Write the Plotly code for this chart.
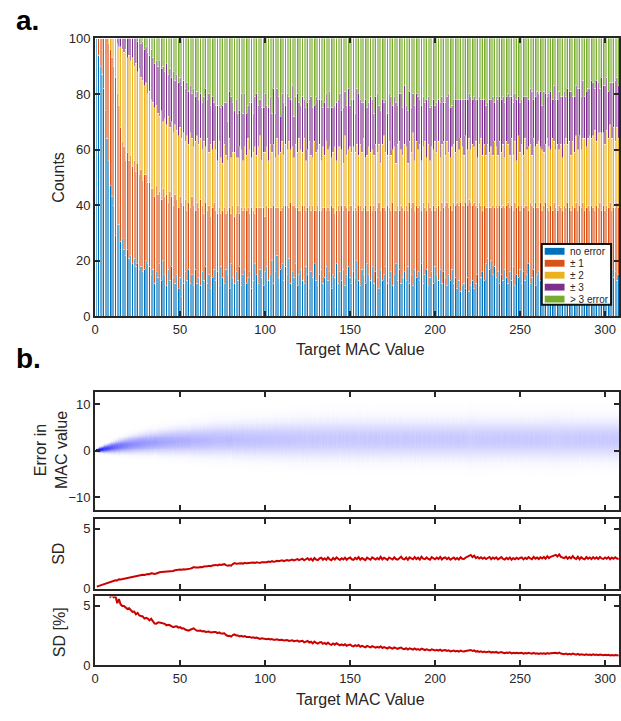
import numpy as np
import plotly.graph_objects as go

W, H = 621, 721
def px(x): return x / W
def py(y): return 1 - y / H

FONT = "Liberation Sans, Arial, Helvetica, sans-serif"
INK = "#262626"

# ---------------- panel a data (counts out of 100 trials per target) ----------------
no_error = [100, 94, 90, 87, 82, 74, 64, 56, 47, 43,
            40, 29, 33, 33, 27, 28, 24, 22, 24, 21,
            22, 19, 21, 18, 19, 17, 18, 16, 17, 20,
            19, 18, 15, 17, 12, 16, 14, 19, 13, 20,
            15, 11, 17, 13, 18, 14, 12, 15, 10, 14,
            7, 12, 16, 13, 17, 12, 15, 11, 17, 12,
            14, 11, 16, 13, 18, 12, 15, 10, 14, 17,
            13, 16, 11, 18, 14, 12, 17, 15, 10, 19,
            14, 12, 16, 13, 18, 11, 15, 17, 12, 14,
            16, 10, 13, 19, 15, 12, 17, 14, 11, 16,
            18, 13, 15, 20, 12, 16, 22, 14, 17, 19,
            13, 18, 15, 21, 12, 16, 14, 19, 11, 15,
            17, 13, 12, 18, 15, 10, 16, 14, 19, 13,
            11, 15, 17, 12, 14, 18, 13, 16, 10, 15,
            14, 19, 12, 16, 13, 17, 11, 15, 18, 14,
            12, 16, 14, 20, 13, 11, 17, 15, 12, 19,
            15, 13, 18, 12, 16, 14, 10, 17, 13, 15,
            18, 12, 14, 16, 11, 15, 19, 13, 17, 12,
            14, 16, 13, 18, 12, 15, 11, 17, 14, 16,
            13, 19, 12, 15, 17, 11, 14, 16, 12, 18,
            15, 13, 17, 12, 16, 14, 11, 15, 13, 17,
            12, 14, 10, 13, 9, 11, 12, 10, 14, 9,
            11, 13, 10, 12, 15, 11, 14, 16, 13, 19,
            21, 17, 20, 15, 18, 14, 16, 12, 15, 13,
            17, 14, 12, 16, 13, 18, 11, 15, 14, 17,
            12, 16, 13, 15, 19, 12, 14, 17, 11, 15,
            16, 13, 18, 14, 12, 15, 17, 13, 16, 11,
            14, 17, 12, 15, 18, 13, 16, 12, 14, 19,
            13, 15, 11, 17, 14, 16, 12, 18, 15, 13,
            16, 12, 14, 17, 13, 15, 11, 16, 14, 18,
            13, 15, 12, 17, 14, 16, 13, 15]

err_pm1 = [0, 6, 10, 13, 18, 26, 36, 42, 49, 50,
           50, 57, 47, 43, 41, 35, 37, 34, 35, 35,
           36, 35, 35, 34, 36, 34, 35, 33, 34, 31,
           29, 30, 31, 29, 31, 31, 30, 26, 29, 26,
           28, 33, 24, 32, 25, 26, 32, 27, 29, 29,
           34, 28, 26, 25, 24, 27, 28, 29, 21, 29,
           25, 31, 24, 24, 23, 26, 25, 26, 25, 24,
           25, 21, 28, 19, 24, 27, 20, 23, 29, 18,
           26, 24, 21, 27, 19, 28, 23, 22, 26, 25,
           21, 29, 25, 18, 24, 27, 22, 25, 28, 20,
           22, 26, 24, 19, 28, 23, 17, 25, 21, 20,
           27, 22, 25, 18, 29, 24, 26, 20, 28, 23,
           21, 27, 28, 20, 24, 30, 22, 26, 19, 25,
           29, 23, 21, 27, 25, 20, 26, 22, 30, 24,
           23, 19, 28, 22, 27, 21, 29, 24, 20, 26,
           28, 22, 25, 18, 27, 29, 21, 24, 28, 19,
           23, 27, 20, 28, 22, 25, 31, 21, 26, 24,
           20, 28, 25, 22, 30, 23, 19, 27, 21, 28,
           25, 22, 27, 20, 29, 24, 30, 21, 26, 23,
           27, 19, 29, 24, 21, 30, 25, 22, 28, 20,
           24, 27, 21, 29, 23, 26, 30, 24, 27, 21,
           29, 26, 31, 27, 32, 29, 28, 31, 26, 33,
           30, 27, 31, 28, 24, 30, 26, 22, 27, 20,
           18, 22, 19, 25, 21, 26, 23, 28, 24, 27,
           22, 26, 29, 23, 27, 20, 30, 24, 26, 21,
           28, 23, 27, 25, 19, 29, 26, 22, 30, 24,
           23, 28, 20, 26, 29, 24, 21, 27, 22, 30,
           25, 21, 28, 24, 20, 27, 23, 29, 25, 19,
           27, 24, 30, 21, 26, 23, 29, 20, 24, 27,
           22, 28, 25, 21, 27, 24, 30, 22, 26, 20,
           27, 24, 29, 21, 25, 23, 28, 24]

err_pm2 = [0, 0, 0, 0, 0, 0, 0, 2, 4, 7,
           10, 14, 18, 21, 29, 33, 34, 40, 34, 38,
           34, 39, 34, 39, 33, 38, 33, 36, 32, 33,
           32, 33, 32, 31, 32, 29, 29, 27, 32, 24,
           28, 25, 31, 23, 27, 26, 25, 25, 26, 25,
           23, 26, 21, 27, 21, 27, 21, 21, 25, 24,
           23, 22, 20, 26, 20, 26, 19, 26, 21, 22,
           22, 19, 24, 20, 17, 23, 21, 18, 25, 20,
           19, 23, 20, 17, 24, 21, 18, 22, 20, 25,
           23, 18, 21, 24, 19, 22, 26, 17, 20, 23,
           21, 17, 23, 20, 22, 18, 25, 19, 21, 24,
           18, 22, 20, 24, 19, 21, 17, 23, 20, 26,
           22, 19, 24, 18, 21, 23, 20, 17, 25, 21,
           20, 24, 18, 22, 19, 25, 21, 23, 17, 20,
           24, 18, 21, 23, 20, 17, 25, 19, 22, 21,
           19, 23, 20, 24, 18, 22, 21, 25, 17, 20,
           23, 19, 22, 18, 24, 20, 21, 17, 23, 26,
           21, 18, 24, 20, 19, 23, 17, 22, 25, 20,
           19, 24, 21, 17, 22, 20, 25, 18, 23, 21,
           22, 18, 20, 24, 19, 21, 17, 23, 20, 25,
           20, 23, 19, 21, 24, 18, 22, 20, 17, 23,
           21, 19, 22, 20, 23, 21, 18, 24, 20, 22,
           19, 22, 20, 23, 18, 21, 24, 20, 22, 19,
           23, 20, 22, 18, 24, 21, 19, 23, 20, 22,
           18, 23, 21, 19, 24, 20, 22, 17, 25, 21,
           22, 19, 24, 20, 23, 21, 18, 25, 20, 23,
           24, 20, 22, 19, 21, 25, 23, 20, 26, 22,
           21, 24, 20, 23, 19, 22, 25, 21, 24, 20,
           23, 20, 24, 22, 25, 21, 23, 26, 22, 24,
           27, 24, 26, 29, 23, 27, 25, 28, 26, 24,
           27, 25, 28, 26, 29, 24, 27, 25]

err_pm3 = [0, 0, 0, 0, 0, 0, 0, 0, 0, 0,
           0, 0, 2, 3, 3, 4, 5, 4, 7, 6,
           8, 7, 10, 9, 11, 11, 12, 14, 13, 13,
           15, 13, 18, 16, 16, 16, 17, 20, 15, 20,
           17, 22, 15, 21, 16, 22, 16, 20, 19, 18,
           19, 19, 19, 19, 19, 17, 16, 21, 16, 16,
           16, 16, 17, 16, 21, 14, 21, 14, 19, 14,
           16, 20, 13, 18, 21, 15, 19, 14, 17, 22,
           18, 15, 21, 16, 13, 20, 17, 19, 15, 12,
           17, 20, 14, 18, 22, 15, 13, 19, 16, 21,
           15, 19, 17, 14, 20, 16, 18, 21, 13, 17,
           19, 14, 20, 16, 18, 22, 15, 17, 21, 13,
           16, 20, 14, 19, 17, 15, 21, 18, 13, 20,
           18, 16, 22, 14, 19, 17, 15, 20, 18, 16,
           15, 21, 17, 19, 14, 20, 16, 18, 22, 15,
           19, 17, 14, 20, 22, 16, 18, 13, 21, 17,
           16, 20, 18, 15, 17, 21, 14, 19, 16, 12,
           19, 15, 17, 21, 16, 18, 22, 14, 17, 20,
           17, 21, 15, 19, 18, 16, 14, 20, 17, 19,
           16, 20, 18, 14, 21, 17, 19, 15, 18, 13,
           18, 15, 20, 17, 14, 19, 16, 21, 18, 15,
           16, 19, 15, 18, 14, 17, 20, 13, 18, 16,
           19, 16, 18, 15, 21, 17, 14, 20, 16, 18,
           15, 19, 17, 21, 14, 18, 20, 16, 19, 17,
           20, 16, 18, 21, 15, 19, 17, 22, 14, 18,
           16, 21, 15, 19, 17, 20, 23, 14, 18, 19,
           17, 20, 16, 22, 18, 15, 19, 21, 14, 20,
           18, 16, 21, 17, 22, 19, 15, 20, 18, 23,
           16, 20, 18, 22, 17, 19, 21, 15, 20, 18,
           17, 21, 19, 15, 22, 18, 16, 20, 17, 21,
           19, 17, 15, 20, 16, 22, 18, 19]

n = min(len(no_error), len(err_pm1), len(err_pm2), len(err_pm3))
target = list(range(1, n + 1))
# remaining trials of the 100 per target fall in the "> 3 error" class
err_gt3 = [100 - (a + b + c + d) for a, b, c, d in zip(no_error, err_pm1, err_pm2, err_pm3)]

categories = ["no error", "\u00b1 1", "\u00b1 2", "\u00b1 3", "> 3 error"]
colors = ["#0072BD", "#D95319", "#EDB120", "#7E2F8E", "#77AC30"]
series = [no_error, err_pm1, err_pm2, err_pm3, err_gt3]

# ---------------- panel b data ----------------
mean_error = [0.05, 0.12, 0.18, 0.25, 0.31, 0.38, 0.44, 0.52, 0.58, 0.66,
              0.71, 0.79, 0.84, 0.90, 0.97, 1.02, 1.08, 1.12, 1.18, 1.21,
              1.27, 1.30, 1.36, 1.38, 1.45, 1.47, 1.52, 1.55, 1.58, 1.63,
              1.61, 1.68, 1.72, 1.70, 1.77, 1.80, 1.76, 1.84, 1.88, 1.85,
              1.91, 1.87, 1.95, 1.93, 1.98, 2.02, 1.96, 2.04, 2.01, 2.07,
              2.03, 2.10, 2.06, 2.12, 2.08, 2.15, 2.11, 2.17, 2.09, 2.19,
              2.14, 2.21, 2.16, 2.23, 2.18, 2.25, 2.20, 2.27, 2.22, 2.29,
              2.31, 2.24, 2.35, 2.28, 2.33, 2.26, 2.38, 2.30, 2.27, 2.36,
              2.29, 2.41, 2.33, 2.25, 2.37, 2.32, 2.44, 2.28, 2.35, 2.39,
              2.30, 2.42, 2.36, 2.27, 2.45, 2.34, 2.40, 2.31, 2.47, 2.38,
              2.33, 2.44, 2.39, 2.29, 2.46, 2.37, 2.42, 2.35, 2.50, 2.31,
              2.43, 2.38, 2.47, 2.34, 2.41, 2.49, 2.36, 2.44, 2.39, 2.52,
              2.40, 2.33, 2.46, 2.42, 2.37, 2.51, 2.44, 2.38, 2.48, 2.35,
              2.45, 2.41, 2.53, 2.39, 2.47, 2.36, 2.50, 2.43, 2.40, 2.49,
              2.37, 2.46, 2.42, 2.52, 2.38, 2.45, 2.41, 2.48, 2.36, 2.44,
              2.50, 2.39, 2.47, 2.43, 2.35, 2.49, 2.42, 2.38, 2.46, 2.41,
              2.37, 2.48, 2.44, 2.40, 2.51, 2.36, 2.45, 2.42, 2.39, 2.47,
              2.43, 2.38, 2.49, 2.35, 2.46, 2.41, 2.44, 2.37, 2.50, 2.40,
              2.36, 2.45, 2.39, 2.47, 2.42, 2.34, 2.48, 2.40, 2.44, 2.38,
              2.46, 2.35, 2.43, 2.39, 2.49, 2.37, 2.42, 2.45, 2.33, 2.41,
              2.38, 2.44, 2.36, 2.47, 2.40, 2.34, 2.43, 2.39, 2.46, 2.35,
              2.42, 2.37, 2.45, 2.33, 2.41, 2.38, 2.46, 2.36, 2.43, 2.39,
              2.34, 2.44, 2.38, 2.41, 2.35, 2.47, 2.37, 2.42, 2.33, 2.40,
              2.38, 2.45, 2.36, 2.43, 2.39, 2.34, 2.46, 2.37, 2.41, 2.35,
              2.44, 2.38, 2.33, 2.42, 2.36, 2.45, 2.39, 2.34, 2.43, 2.37,
              2.40, 2.35, 2.46, 2.38, 2.42, 2.33, 2.41, 2.36, 2.44, 2.39,
              2.34, 2.43, 2.37, 2.40, 2.45, 2.36, 2.41, 2.38, 2.33, 2.42,
              2.39, 2.35, 2.44, 2.37, 2.41, 2.34, 2.46, 2.38, 2.36, 2.43,
              2.40, 2.33, 2.42, 2.37, 2.45, 2.39, 2.35, 2.41, 2.38, 2.44,
              2.36, 2.42, 2.39, 2.34, 2.43, 2.37, 2.40, 2.35, 2.41, 2.38,
              2.44, 2.36, 2.39, 2.42, 2.35, 2.40, 2.37, 2.41]

sd_error = [0.17, 0.22, 0.28, 0.30, 0.36, 0.41, 0.43, 0.50, 0.52, 0.59,
            0.63, 0.70, 0.68, 0.78, 0.77, 0.80, 0.85, 0.88, 0.90, 0.96,
            0.97, 0.99, 1.04, 1.03, 1.10, 1.09, 1.12, 1.15, 1.14, 1.20,
            1.22, 1.21, 1.29, 1.27, 1.23, 1.26, 1.33, 1.37, 1.39, 1.40,
            1.43, 1.41, 1.46, 1.48, 1.49, 1.47, 1.53, 1.57, 1.55, 1.60,
            1.58, 1.62, 1.59, 1.61, 1.60, 1.67, 1.72, 1.80, 1.76, 1.74,
            1.77, 1.81, 1.79, 1.84, 1.82, 1.86, 1.90, 1.87, 1.93, 1.96,
            1.98, 1.94, 2.01, 1.97, 2.00, 2.04, 1.96, 1.92, 1.95, 1.92,
            2.05, 2.13, 2.08, 2.10, 2.06, 2.12, 2.09, 2.15, 2.11, 2.13,
            2.16, 2.12, 2.18, 2.15, 2.20, 2.17, 2.14, 2.21, 2.19, 2.23,
            2.20, 2.26, 2.22, 2.29, 2.24, 2.27, 2.33, 2.28, 2.31, 2.36,
            2.30, 2.34, 2.39, 2.33, 2.37, 2.43, 2.36, 2.40, 2.46, 2.38,
            2.44, 2.50, 2.36, 2.47, 2.54, 2.40, 2.50, 2.34, 2.55, 2.43,
            2.38, 2.52, 2.58, 2.41, 2.53, 2.40, 2.60, 2.44, 2.37, 2.56,
            2.43, 2.61, 2.46, 2.39, 2.54, 2.44, 2.58, 2.41, 2.53, 2.60,
            2.45, 2.40, 2.57, 2.46, 2.63, 2.42, 2.55, 2.44, 2.38, 2.59,
            2.47, 2.41, 2.61, 2.48, 2.43, 2.56, 2.45, 2.65, 2.44, 2.58,
            2.46, 2.40, 2.60, 2.49, 2.43, 2.62, 2.47, 2.42, 2.57, 2.66,
            2.48, 2.44, 2.59, 2.41, 2.61, 2.49, 2.45, 2.64, 2.47, 2.58,
            2.43, 2.67, 2.50, 2.46, 2.60, 2.48, 2.42, 2.63, 2.51, 2.45,
            2.59, 2.47, 2.65, 2.44, 2.56, 2.61, 2.46, 2.58, 2.41, 2.54,
            2.60, 2.45, 2.56, 2.43, 2.62, 2.49, 2.47, 2.59, 2.66, 2.74,
            2.81, 2.63, 2.75, 2.55, 2.64, 2.51, 2.62, 2.49, 2.60, 2.47,
            2.58, 2.64, 2.46, 2.59, 2.49, 2.61, 2.44, 2.56, 2.63, 2.48,
            2.43, 2.57, 2.46, 2.60, 2.41, 2.55, 2.45, 2.58, 2.47, 2.56,
            2.61, 2.44, 2.57, 2.48, 2.63, 2.53, 2.46, 2.65, 2.50, 2.60,
            2.47, 2.62, 2.52, 2.64, 2.49, 2.69, 2.55, 2.66, 2.73, 2.77,
            2.82, 2.68, 2.85, 2.65, 2.59, 2.54, 2.67, 2.50, 2.63, 2.53,
            2.72, 2.55, 2.48, 2.66, 2.44, 2.62, 2.51, 2.45, 2.64, 2.49,
            2.59, 2.46, 2.63, 2.50, 2.61, 2.47, 2.65, 2.52, 2.48, 2.60,
            2.50, 2.63, 2.45, 2.59, 2.49, 2.61, 2.51, 2.47]

m = min(len(mean_error), len(sd_error))
target_b = np.arange(1, m + 1)
mu = np.array(mean_error[:m])
sd = np.array(sd_error[:m])
sd_percent = 100 * sd / target_b

# point cloud (100 trials per target) rendered as its density
trials = 100
ygrid = np.arange(-12.8, 12.85, 0.1)
dens = trials * np.exp(-0.5 * ((ygrid[:, None] - mu[None, :]) / sd[None, :]) ** 2) / (sd[None, :] * np.sqrt(2 * np.pi))
cloud = 1 - np.exp(-0.015 * dens)

XMAX = 308.2

fig = go.Figure()

for name, col, vals in zip(categories, colors, series):
    fig.add_trace(go.Bar(x=target, y=vals[:n], name=name,
                         marker=dict(color=col, line=dict(width=0.45, color="rgba(255,255,255,0.9)")),
                         showlegend=False, xaxis="x", yaxis="y"))

fig.add_trace(go.Heatmap(x=target_b, y=ygrid, z=cloud, zmin=0, zmax=1,
                         colorscale=[[0, "#ffffff"], [1, "#0000ff"]], showscale=False,
                         xaxis="x2", yaxis="y2", hoverinfo="skip"))

fig.add_trace(go.Scatter(x=target_b, y=sd, mode="lines", line=dict(color="#CC0000", width=2),
                         showlegend=False, xaxis="x3", yaxis="y3"))
fig.add_trace(go.Scatter(x=target_b, y=sd_percent, mode="lines", line=dict(color="#CC0000", width=2),
                         showlegend=False, xaxis="x4", yaxis="y4"))

def axis(**kw):
    d = dict(showline=True, linewidth=2, linecolor=INK, mirror="ticks", ticks="inside",
             ticklen=5, tickwidth=2, tickcolor=INK, showgrid=False, zeroline=False,
             tickfont=dict(family=FONT, size=13, color=INK))
    d.update(kw)
    return d

xdom = [px(92), 1.0]
xt = dict(tickvals=[0, 50, 100, 150, 200, 250, 300], range=[0, XMAX])

fig.update_layout(
    width=W, height=H, margin=dict(l=0, r=0, t=0, b=0),
    paper_bgcolor="white", plot_bgcolor="white",
    barmode="stack", bargap=0.2,
    font=dict(family=FONT, color=INK),
    xaxis=axis(domain=xdom, anchor="y", **xt),
    yaxis=axis(domain=[py(316), py(32)], anchor="x", range=[0, 100], tickvals=[0, 20, 40, 60, 80, 100]),
    xaxis2=axis(domain=xdom, anchor="y2", showticklabels=False, **xt),
    yaxis2=axis(domain=[py(514), py(393)], anchor="x2", range=[-12.8, 12.7], tickvals=[-10, 0, 10]),
    xaxis3=axis(domain=xdom, anchor="y3", showticklabels=False, **xt),
    yaxis3=axis(domain=[py(594), py(523)], anchor="x3", range=[0, 5.8], tickvals=[0, 5]),
    xaxis4=axis(domain=xdom, anchor="y4", **xt),
    yaxis4=axis(domain=[py(672), py(602)], anchor="x4", range=[0, 5.8], tickvals=[0, 5]),
)

ann = []
def text(x, y, s, size=16, angle=0, bold=False, xanchor="center", yanchor="middle"):
    ann.append(dict(x=px(x), y=py(y), xref="paper", yref="paper", text=("<b>%s</b>" % s) if bold else s,
                    showarrow=False, textangle=angle, xanchor=xanchor, yanchor=yanchor,
                    font=dict(family=FONT, size=size, color=INK if not bold else "#000000")))

text(10, 14, "a.", size=28, bold=True, xanchor="left")
text(10, 359, "b.", size=28, bold=True, xanchor="left")
text(55, 174, "Counts", angle=-90)
text(360, 350, "Target MAC Value")
text(47, 453, "Error in<br>MAC value", angle=-90)
text(55, 558, "SD", angle=-90)
text(56, 638, "SD [%]", angle=-90)
text(360, 707, "Target MAC Value")

# legend box for panel a
shapes = [dict(type="rect", xref="paper", yref="paper", x0=px(543), x1=px(613), y0=py(304), y1=py(242),
               fillcolor="white", line=dict(color="#111111", width=2), layer="above")]
for i, (name, col) in enumerate(zip(categories, colors)):
    yc = 249.5 + i * 12.2
    shapes.append(dict(type="rect", xref="paper", yref="paper", x0=px(546), x1=px(566),
                       y0=py(yc + 3.5), y1=py(yc - 3.5), fillcolor=col, line=dict(width=0), layer="above"))
    text(570, yc, name, size=10, xanchor="left")

fig.update_layout(annotations=ann, shapes=shapes)
fig.write_html("out.html")
